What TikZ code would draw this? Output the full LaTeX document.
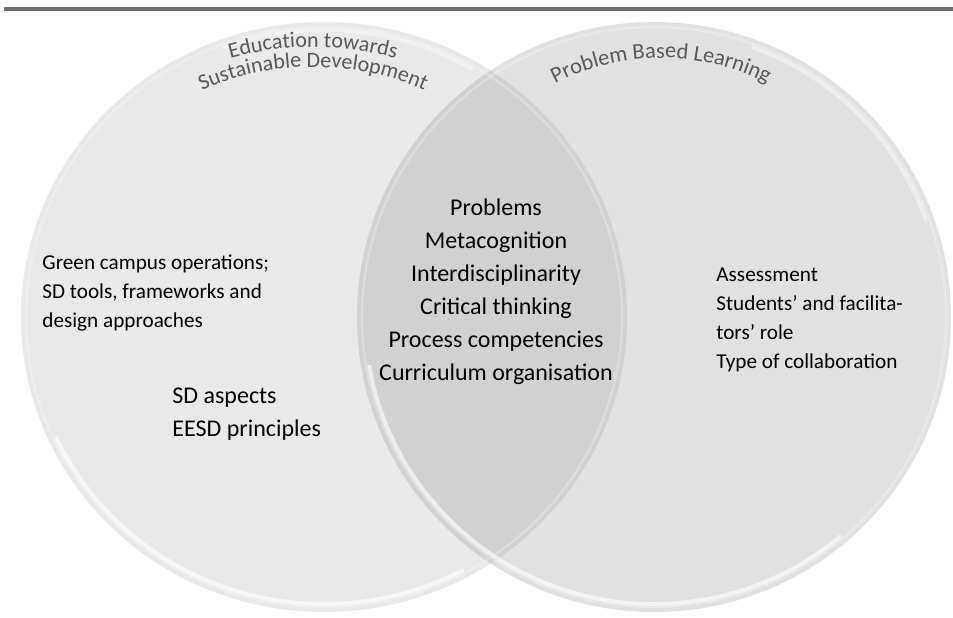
\documentclass[tikz,border=0pt]{standalone}
\usepackage{fontspec}
\setmainfont{Carlito}
\usetikzlibrary{decorations.text}
\definecolor{leftc}{HTML}{E9E9E9}
\definecolor{rightc}{HTML}{E1E1E1}
\definecolor{lensc}{HTML}{D1D1D1}
\definecolor{titlec}{HTML}{595959}
\definecolor{rulec}{HTML}{6F6F6F}
\begin{document}
\begin{tikzpicture}[x=0.5pt,y=-0.5pt,
  bigtxt/.style={font=\fontsize{12}{16.5}\selectfont, align=center, inner sep=0pt},
  bigleft/.style={font=\fontsize{12}{16.5}\selectfont, align=left, inner sep=0pt, anchor=west},
  smalltxt/.style={font=\fontsize{10.6}{14.6}\selectfont, align=left, inner sep=0pt, anchor=west},
  rimsoft/.style={white, line width=1.2pt, opacity=0.25},
  rimhard/.style={white, line width=2pt, opacity=0.6, line cap=round},
  rimtop/.style={white, line width=2pt, opacity=0.4, line cap=round},
  arctitle/.style={decorate, decoration={text along path, text align=center,
     text color=titlec, text format delimiters={|}{|}}}]
\useasboundingbox (0,0) rectangle (953,617);
\fill[white] (0,0) rectangle (953,617);
\draw[rulec, line width=2pt] (4,8.7) -- (953,8.7);
\coordinate (L) at (324,317);
\coordinate (R) at (654,317);
% circles
\fill[leftc] (L) ellipse[x radius=151.5pt, y radius=147.5pt];
\fill[rightc] (R) ellipse[x radius=148.5pt, y radius=147.5pt];
\begin{scope}
  \clip (L) ellipse[x radius=151.5pt, y radius=147.5pt];
  \fill[lensc] (R) ellipse[x radius=148.5pt, y radius=147.5pt];
\end{scope}
% rim highlights
\draw[rimsoft] (L) ellipse[x radius=149pt, y radius=145pt];
\draw[rimsoft] (R) ellipse[x radius=146pt, y radius=145pt];
\draw[rimhard] ([shift={(205:147.5pt and 143.5pt)}]L) arc[start angle=205, end angle=298, x radius=147.5pt, y radius=143.5pt];
\draw[rimhard] ([shift={(190:144.5pt and 143.5pt)}]R) arc[start angle=190, end angle=310, x radius=144.5pt, y radius=143.5pt];
\draw[rimtop] ([shift={(60:147.5pt and 143.5pt)}]L) arc[start angle=60, end angle=110, x radius=147.5pt, y radius=143.5pt];
\draw[rimtop] ([shift={(20:144.5pt and 143.5pt)}]R) arc[start angle=20, end angle=70, x radius=144.5pt, y radius=143.5pt];
% titles
\path[arctitle, decoration={text={|\fontsize{11}{13}\selectfont|Education towards}}]
  ([shift={(120:153.5pt)}]313,354) arc[start angle=120, end angle=60, radius=153.5pt];
\path[arctitle, decoration={text={|\fontsize{11}{13}\selectfont|Sustainable Development}}]
  ([shift={(130:138.5pt)}]313,344) arc[start angle=130, end angle=50, radius=138.5pt];
\path[arctitle, decoration={text={|\fontsize{11.2}{13}\selectfont|Problem Based Learning}}]
  ([shift={(135:117pt)}]661,292) arc[start angle=135, end angle=45, radius=117pt];
% texts
\node[bigtxt] (core) at (496,292) {Problems\\Metacognition\\Interdisciplinarity\\Critical thinking\\Process competencies\\Curriculum organisation};
\node[smalltxt] (esd) at (42,293) {Green campus operations;\\SD tools, frameworks and\\design approaches};
\node[bigleft] (sd) at (172,414) {SD aspects\\EESD principles};
\node[smalltxt] (pbl) at (716,320) {Assessment\\Students’ and facilita-\\tors’ role\\Type of collaboration};
\end{tikzpicture}
\end{document}
